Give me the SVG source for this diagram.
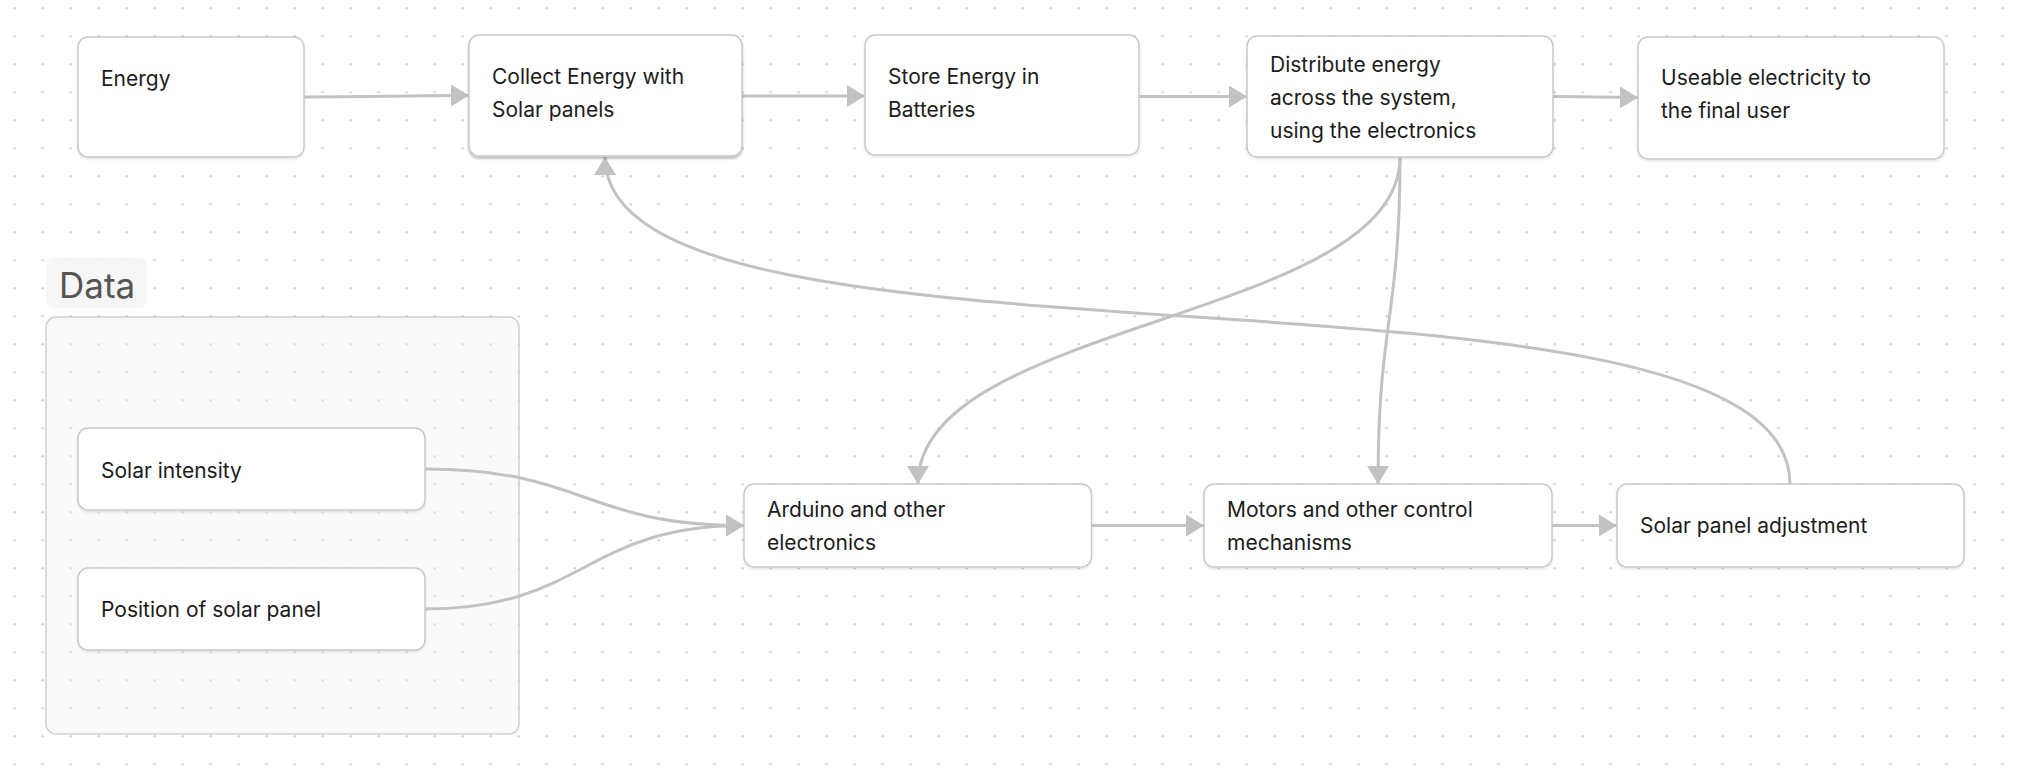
<svg xmlns="http://www.w3.org/2000/svg" width="2028" height="778" viewBox="0 0 2028 778">
<defs>
<pattern id="dots" x="0" y="0" width="28" height="28" patternUnits="userSpaceOnUse">
<circle cx="14.7" cy="8.3" r="1.2" fill="#d2d2d2"/>
</pattern>
<marker id="arr" markerUnits="userSpaceOnUse" viewBox="0 0 18 22" markerWidth="18" markerHeight="22" refX="18" refY="11" orient="auto">
<path d="M0,0 L18,11 L0,22 Z" fill="#c2c2c2"/>
</marker>
<filter id="sh" x="-5%" y="-5%" width="110%" height="120%">
<feDropShadow dx="0" dy="1.5" stdDeviation="1" flood-color="#000" flood-opacity="0.10"/>
</filter>
<filter id="sh2" x="-5%" y="-5%" width="110%" height="120%">
<feDropShadow dx="0" dy="2" stdDeviation="0.8" flood-color="#000" flood-opacity="0.28"/>
</filter>
</defs>
<style>
.node rect{fill:#ffffff;stroke:#c9c9c9;stroke-width:1.5}
.node text, .lbl{font-family:Inter,"Noto Sans","Liberation Sans",sans-serif;font-size:21px;fill:#1c1c1c}
.edge{fill:none;stroke:#c2c2c2;stroke-width:3;marker-end:url(#arr)}
</style>
<rect width="2028" height="778" fill="#ffffff"/>
<rect width="2028" height="778" fill="url(#dots)"/>

<g id="group-data">
<rect x="46" y="258" width="101" height="50" rx="8" fill="#f4f4f4" fill-opacity="0.85"/>
<text x="59" y="298" font-family="Inter,'Noto Sans','Liberation Sans',sans-serif" font-size="35" fill="#555555">Data</text>
<rect x="46" y="317" width="473" height="417" rx="10" fill="#f2f2f2" fill-opacity="0.4" stroke="#d0d0d0" stroke-width="1.5"/>
</g>

<g id="edges">
<path class="edge" d="M304,97 C386,97 386,95.5 469,95.5"/>
<path class="edge" d="M742,96 C804,96 804,96 865,96"/>
<path class="edge" d="M1139,96.5 C1193,96.5 1193,96.5 1247,96.5"/>
<path class="edge" d="M1553,96.5 C1596,96.5 1596,97.5 1638,97.5"/>
<path class="edge" d="M1400,157 C1400,320.5 918,320.5 918,484"/>
<path class="edge" d="M1400,157 C1400,320.5 1378,320.5 1378,484"/>
<path class="edge" d="M1790,484 C1790,232 605,400 605,157"/>
<path class="edge" d="M425,469 C584.5,469 584.5,525.5 744,525.5"/>
<path class="edge" d="M425,609 C584.5,609 584.5,525.5 744,525.5"/>
<path class="edge" d="M1091.5,525.5 C1148,525.5 1148,525.5 1204,525.5"/>
<path class="edge" d="M1552,525.5 C1585,525.5 1585,525.5 1617,525.5"/>
</g>

<g id="node-energy" class="node">
<rect x="78" y="37" width="226" height="120" rx="10" filter="url(#sh)"/>
<text x="101" y="86">Energy</text>
</g>
<g id="node-collect" class="node">
<rect x="469" y="35" width="273" height="121" rx="10" filter="url(#sh2)"/>
<text x="492" y="84">Collect Energy with</text>
<text x="492" y="117">Solar panels</text>
</g>
<g id="node-store" class="node">
<rect x="865" y="35" width="274" height="120" rx="10" filter="url(#sh)"/>
<text x="888" y="84">Store Energy in</text>
<text x="888" y="117">Batteries</text>
</g>
<g id="node-distribute" class="node">
<rect x="1247" y="36" width="306" height="121" rx="10" filter="url(#sh)"/>
<text x="1270" y="72">Distribute energy</text>
<text x="1270" y="105">across the system,</text>
<text x="1270" y="138">using the electronics</text>
</g>
<g id="node-useable" class="node">
<rect x="1638" y="37" width="306" height="122" rx="10" filter="url(#sh)"/>
<text x="1661" y="85">Useable electricity to</text>
<text x="1661" y="118">the final user</text>
</g>
<g id="node-solar-intensity" class="node">
<rect x="78" y="428" width="347" height="82" rx="10" filter="url(#sh)"/>
<text x="101" y="478">Solar intensity</text>
</g>
<g id="node-position" class="node">
<rect x="78" y="568" width="347" height="82" rx="10" filter="url(#sh)"/>
<text x="101" y="617">Position of solar panel</text>
</g>
<g id="node-arduino" class="node">
<rect x="744" y="484" width="347.5" height="83" rx="10" filter="url(#sh)"/>
<text x="767" y="517">Arduino and other</text>
<text x="767" y="550">electronics</text>
</g>
<g id="node-motors" class="node">
<rect x="1204" y="484" width="348" height="83" rx="10" filter="url(#sh)"/>
<text x="1227" y="517">Motors and other control</text>
<text x="1227" y="550">mechanisms</text>
</g>
<g id="node-adjust" class="node">
<rect x="1617" y="484" width="347" height="83" rx="10" filter="url(#sh)"/>
<text x="1640" y="533">Solar panel adjustment</text>
</g>
</svg>
